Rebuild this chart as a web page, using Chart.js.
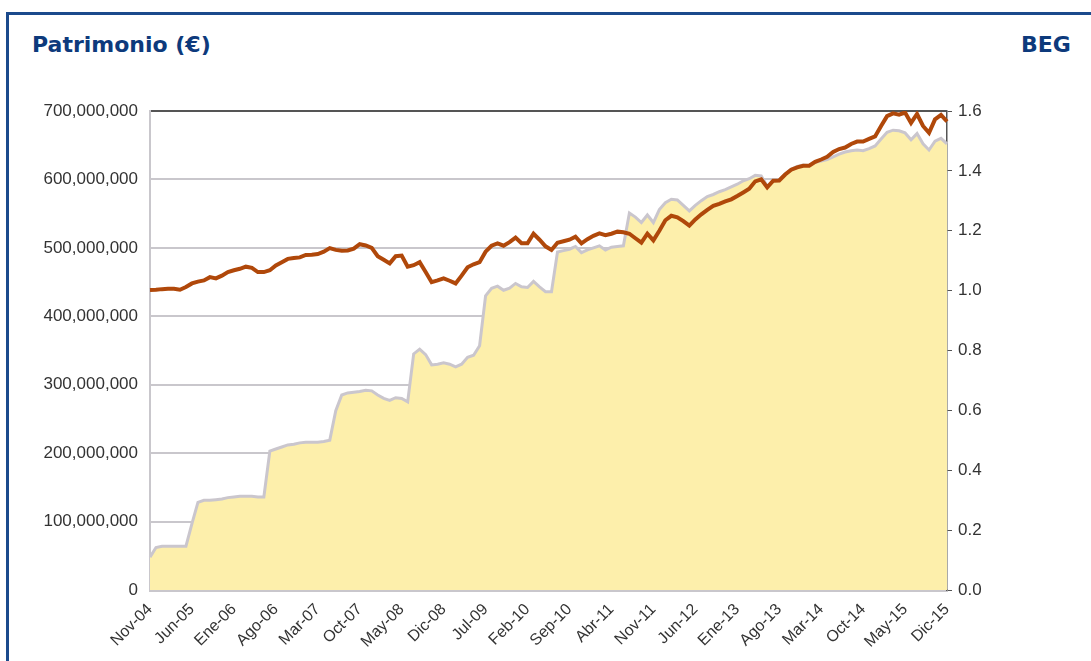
<!DOCTYPE html>
<html>
<head>
<meta charset="utf-8">
<script src="https://cdn.jsdelivr.net/npm/chart.js@4/dist/chart.umd.min.js"></script>
<style>
  html, body { margin: 0; padding: 0; background: #fff; }
  body { width: 1091px; height: 661px; position: relative; overflow: hidden; }
  .frame {
    position: absolute; left: 6px; top: 12px; width: 1100px; height: 700px;
    border-top: 3px solid #1b4a8c; border-left: 3px solid #1b4a8c;
  }
  .title {
    position: absolute; top: 32px; line-height: 26px;
    font-family: "DejaVu Sans", sans-serif; font-weight: bold; font-size: 22px;
    color: #0d3a7c;
  }
  #wrap { position: absolute; left: 0; top: 0; width: 1091px; height: 661px; }
</style>
</head>
<body>
<div class="frame"></div>
<div class="title" style="left:32px">Patrimonio (€)</div>
<div class="title" style="left:1021px">BEG</div>
<div id="wrap"><canvas id="chart"></canvas></div>
<script>
// monthly, Nov-04 .. Dic-15
const MONTHS = ["Ene", "Feb", "Mar", "Abr", "May", "Jun", "Jul", "Ago", "Sep", "Oct", "Nov", "Dic"];
const labels = [];
for (let y = 2004, m = 10; y < 2015 || (y === 2015 && m <= 11); m++) {
  if (m === 12) { m = 0; y++; }
  labels.push(MONTHS[m] + "-" + String(y).slice(2));
}

// Patrimonio (millones de €)
const patrimonio = [
  48, 62, 64, 64, 64, 64, 64, 97, 128, 131,
  131, 132, 133, 135, 136, 137, 137, 137, 136, 136,
  203, 206, 209, 212, 213, 215, 216, 216, 216, 217,
  219, 262, 285, 288, 289, 290, 292, 291, 285, 280,
  277, 281, 280, 275, 345, 352, 344, 329, 330, 332,
  330, 326, 330, 340, 343, 357, 430, 441, 444, 438,
  441, 448, 443, 442, 451, 443, 436, 436, 494, 496,
  498, 502, 493, 497, 500, 503, 497, 501, 502, 503,
  551, 545, 537, 548, 537, 556, 566, 571, 570, 562,
  554, 562, 569, 575, 578, 582, 585, 589, 593, 598,
  601, 606, 605, 590, 598, 599, 608, 615, 619, 621,
  620, 625, 627, 629, 633, 637, 640, 642, 643, 642,
  645, 649, 659, 669, 672, 671, 668, 658, 667, 652,
  643, 656, 660, 652
];

// valor liquidativo (eje derecho)
const valor = [
  1.002, 1.003, 1.005, 1.006, 1.006, 1.003, 1.012, 1.024, 1.030, 1.034,
  1.045, 1.041, 1.050, 1.062, 1.068, 1.073, 1.080, 1.076, 1.062, 1.062,
  1.068, 1.084, 1.095, 1.106, 1.109, 1.111, 1.119, 1.120, 1.122, 1.130,
  1.142, 1.136, 1.133, 1.134, 1.140, 1.155, 1.151, 1.143, 1.115, 1.103,
  1.091, 1.115, 1.117, 1.080, 1.085, 1.095, 1.062, 1.028, 1.034, 1.041,
  1.033, 1.024, 1.050, 1.078, 1.088, 1.095, 1.130, 1.150, 1.158, 1.150,
  1.162, 1.177, 1.158, 1.158, 1.190, 1.170, 1.148, 1.136, 1.160, 1.165,
  1.170, 1.180, 1.158, 1.172, 1.183, 1.191, 1.185, 1.190, 1.197, 1.195,
  1.190, 1.175, 1.160, 1.190, 1.168, 1.200, 1.235, 1.250, 1.245, 1.232,
  1.217, 1.238, 1.255, 1.270, 1.283, 1.290, 1.298, 1.305, 1.316, 1.328,
  1.340, 1.365, 1.372, 1.345, 1.367, 1.368, 1.388, 1.404, 1.412, 1.417,
  1.417, 1.430, 1.438, 1.447, 1.463, 1.473, 1.478, 1.490, 1.498, 1.498,
  1.507, 1.515, 1.550, 1.583, 1.592, 1.588, 1.595, 1.560, 1.590, 1.550,
  1.527, 1.572, 1.587, 1.565
];

const LABEL_STEP = 7;
const tickFont = { family: '"Liberation Sans", Arial, sans-serif', size: 17 };

new Chart(document.getElementById("chart"), {
  type: "line",
  data: {
    labels,
    datasets: [
      {
        label: "Valor",
        data: valor,
        yAxisID: "y1",
        borderColor: "#b0480a",
        borderWidth: 4,
        pointRadius: 0,
        fill: false,
        order: 0,
      },
      {
        label: "Patrimonio",
        data: patrimonio.map((v) => v * 1e6),
        yAxisID: "y",
        borderColor: "#cac6cd",
        backgroundColor: "#fdefab",
        borderWidth: 3,
        pointRadius: 0,
        fill: "origin",
        order: 1,
      },
    ],
  },
  options: {
    responsive: true,
    maintainAspectRatio: false,
    animation: false,
    layout: { padding: { top: 111, right: 84, bottom: 0, left: 0 } },
    plugins: { legend: { display: false }, tooltip: { enabled: false } },
    scales: {
      x: {
        grid: { display: false, drawTicks: false },
        border: { display: true, color: "#c9c7cc", width: 3 },
        afterFit: (scale) => { scale.height = 71; },
        ticks: {
          autoSkip: false,
          maxRotation: 45,
          minRotation: 45,
          padding: 10,
          color: "#333",
          font: { family: tickFont.family, size: 16 },
          callback: (v, i) => (i % LABEL_STEP === 0 ? labels[i] : null),
        },
      },
      y: {
        position: "left",
        min: 0,
        max: 700e6,
        afterFit: (scale) => { scale.width = 150; },
        grid: {
          color: (c) => (c.tick && c.tick.value === 700e6 ? "#555" : "#c9c7cc"),
          lineWidth: 2,
          drawTicks: false,
        },
        border: { color: "#c9c7cc", width: 2 },
        ticks: {
          stepSize: 100e6,
          padding: 12,
          color: "#333",
          font: tickFont,
          callback: (v) => v.toLocaleString("en-US"),
        },
      },
      y1: {
        position: "right",
        min: 0,
        max: 1.6,
        afterFit: (scale) => { scale.width = 60; },
        grid: { drawOnChartArea: false, color: "#555", tickLength: 5 },
        border: { color: "#555", width: 1.5 },
        ticks: {
          stepSize: 0.2,
          padding: 6,
          color: "#333",
          font: tickFont,
          callback: (v) => v.toFixed(1),
        },
      },
    },
  },
});
</script>
</body>
</html>
